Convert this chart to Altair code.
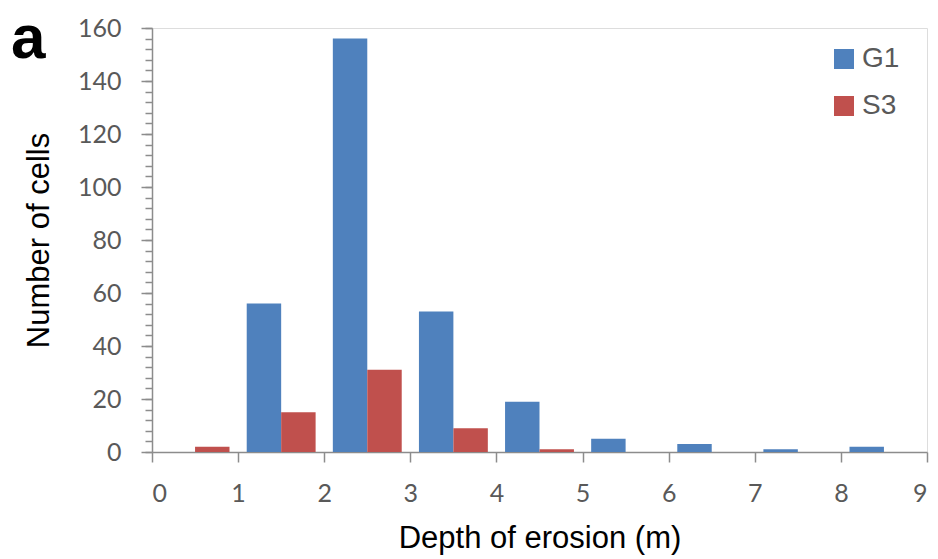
import altair as alt
import pandas as pd

bins = [0, 1, 2, 3, 4, 5, 6, 7, 8]
g1 = [0, 56, 156, 53, 19, 5, 3, 1, 2]
s3 = [2, 15, 31, 9, 1, 0, 0, 0, 0]
series = ["G1", "S3"]
colors = ["#4F81BD", "#C0504D"]
x_ticks = list(range(0, 10))
y_major = list(range(0, 161, 20))
y_minor = list(range(0, 161, 4))
panel_label = "a"

rows = []
for b, a, c in zip(bins, g1, s3):
    rows.append({"bin": b, "series": "G1", "count": a})
    rows.append({"bin": b, "series": "S3", "count": c})
df = pd.DataFrame(rows)

TICK_FONT = "Lato"
TICK_COLOR = "#595959"
AXIS_COLOR = "#8c8c8c"

base = alt.Chart(df).transform_calculate(
    x0="datum.bin + 0.1 + (datum.series == 'S3' ? 0.4 : 0)",
    x1="datum.bin + 0.5 + (datum.series == 'S3' ? 0.4 : 0)",
)

xscale = alt.Scale(domain=[0, 9], nice=False, zero=False)
yscale = alt.Scale(domain=[0, 160], nice=False)

xaxis = alt.Axis(values=x_ticks, title="Depth of erosion (m)", grid=False,
                 tickSize=10, tickColor=AXIS_COLOR, tickWidth=1.5,
                 domainColor=AXIS_COLOR, domainWidth=1.5,
                 labelFont=TICK_FONT, labelFontSize=25, labelColor=TICK_COLOR,
                 labelPadding=19,
                 titleFont="Liberation Sans", titleFontSize=31,
                 titleFontWeight="normal", titleColor="#000000",
                 titlePadding=17)

bars = base.mark_bar().encode(
    x=alt.X("x0:Q", scale=xscale, axis=xaxis),
    x2="x1:Q",
    y=alt.Y("count:Q", scale=yscale,
            axis=alt.Axis(values=y_major, title="Number of cells", grid=False,
                          orient="left",
                          tickSize=11, tickColor=AXIS_COLOR, tickWidth=1.5,
                          domainColor=AXIS_COLOR, domainWidth=1.5,
                          labelFont=TICK_FONT, labelFontSize=25, labelColor=TICK_COLOR,
                          labelPadding=20,
                          titleFont="Liberation Sans", titleFontSize=31,
                          titleFontWeight="normal", titleColor="#000000",
                          titlePadding=22)),
    y2=alt.datum(0),
    color=alt.Color("series:N",
                    scale=alt.Scale(domain=series, range=colors),
                    legend=alt.Legend(title=None, orient="none", legendX=678, legendY=17,
                                      symbolType="square", symbolSize=400,
                                      symbolStrokeWidth=0,
                                      labelFont="Liberation Sans", labelFontSize=28,
                                      labelColor=TICK_COLOR, labelOffset=4,
                                      rowPadding=19)),
)

minor = base.mark_bar(opacity=0).encode(
    x=alt.X("x0:Q", scale=xscale, axis=xaxis),
    x2="x1:Q",
    y=alt.Y("count:Q", scale=yscale,
            axis=alt.Axis(values=y_minor, labels=False, title=None, grid=False,
                          domain=False, orient="left", tickSize=7,
                          tickColor=AXIS_COLOR, tickWidth=1.5)),
    y2=alt.datum(0),
)

label = alt.Chart(pd.DataFrame({"t": [panel_label]})).mark_text(
    font="Liberation Sans", fontSize=62, fontWeight="bold", color="#000000",
    align="left", baseline="alphabetic",
).encode(x=alt.value(-141), y=alt.value(30), text="t:N")

chart = alt.layer(bars, minor, label).resolve_axis(y="independent").properties(
    width=775,
    height=424,
    autosize=alt.AutoSizeParams(type="none"),
    padding={"left": 152, "top": 28, "right": 11, "bottom": 107},
).configure_view(stroke=None).configure(background="#ffffff")

chart.save("out.html", embed_options={"renderer": "svg", "actions": False})
